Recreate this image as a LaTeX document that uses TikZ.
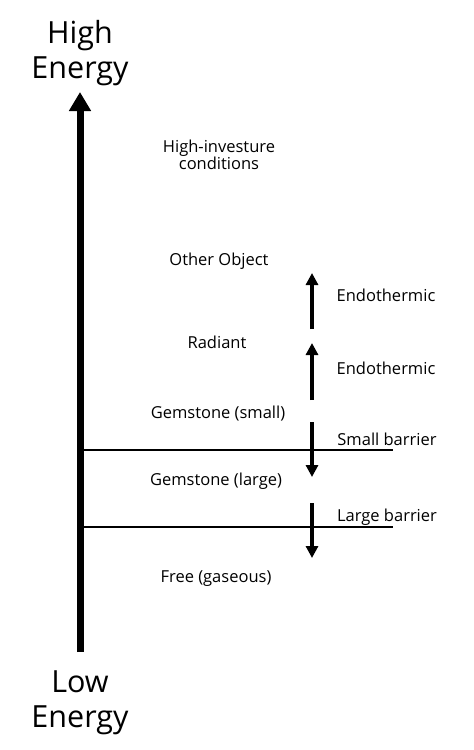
\documentclass[tikz,border=0pt]{standalone}
\usepackage{fontspec}
\setmainfont{Open Sans}
\usetikzlibrary{arrows.meta}
\begin{document}
\begin{tikzpicture}[x=1pt,y=-1pt,
  big/.style={font=\fontsize{30.5}{35}\selectfont, align=center, inner sep=0pt},
  lbl/.style={font=\fontsize{16.5}{17.5}\selectfont, align=center, inner sep=0pt},
  level/.style={line width=1.5pt},
  mainarrow/.style={line width=7pt, -{Triangle[width=21pt,length=19pt]}},
  smallarrow/.style={line width=4.5pt, -{Triangle[width=12pt,length=12pt]}}]
\useasboundingbox (0,0) rectangle (474,750);
% titles
\node[big] (high) at (80,53) {High\\Energy};
\node[big] (low) at (80,703) {Low\\Energy};
% main axis
\coordinate (axb) at (80,652);
\coordinate (axt) at (80,92);
\draw[mainarrow] (axb) -- (axt);
% level lines
\coordinate (l1a) at (80,450); \coordinate (l1b) at (393,450);
\coordinate (l2a) at (80,527); \coordinate (l2b) at (393,527);
\draw[level] (l1a) -- (l1b);
\draw[level] (l2a) -- (l2b);
% state labels
\node[lbl] (hic) at (219,155) {High-investure\\conditions};
\node[lbl] (oo) at (219,261) {Other Object};
\node[lbl] (rad) at (217,342) {Radiant};
\node[lbl] (gs) at (218,414) {Gemstone (small)};
\node[lbl] (gl) at (216,481) {Gemstone (large)};
\node[lbl] (free) at (216,579) {Free (gaseous)};
% small arrows
\coordinate (e1b) at (312,329); \coordinate (e1t) at (312,273);
\coordinate (e2b) at (312,400); \coordinate (e2t) at (312,343);
\coordinate (s1t) at (312,422); \coordinate (s1b) at (312,477);
\coordinate (s2t) at (312,503); \coordinate (s2b) at (312,558);
\draw[smallarrow] (e1b) -- (e1t);
\draw[smallarrow] (e2b) -- (e2t);
\draw[smallarrow] (s1t) -- (s1b);
\draw[smallarrow] (s2t) -- (s2b);
% arrow labels
\node[lbl] (en1) at (386,295) {Endothermic};
\node[lbl] (en2) at (386,368) {Endothermic};
\node[lbl] (sb) at (387,439) {Small barrier};
\node[lbl] (lb) at (387,517) {Large barrier};
\end{tikzpicture}
\end{document}
